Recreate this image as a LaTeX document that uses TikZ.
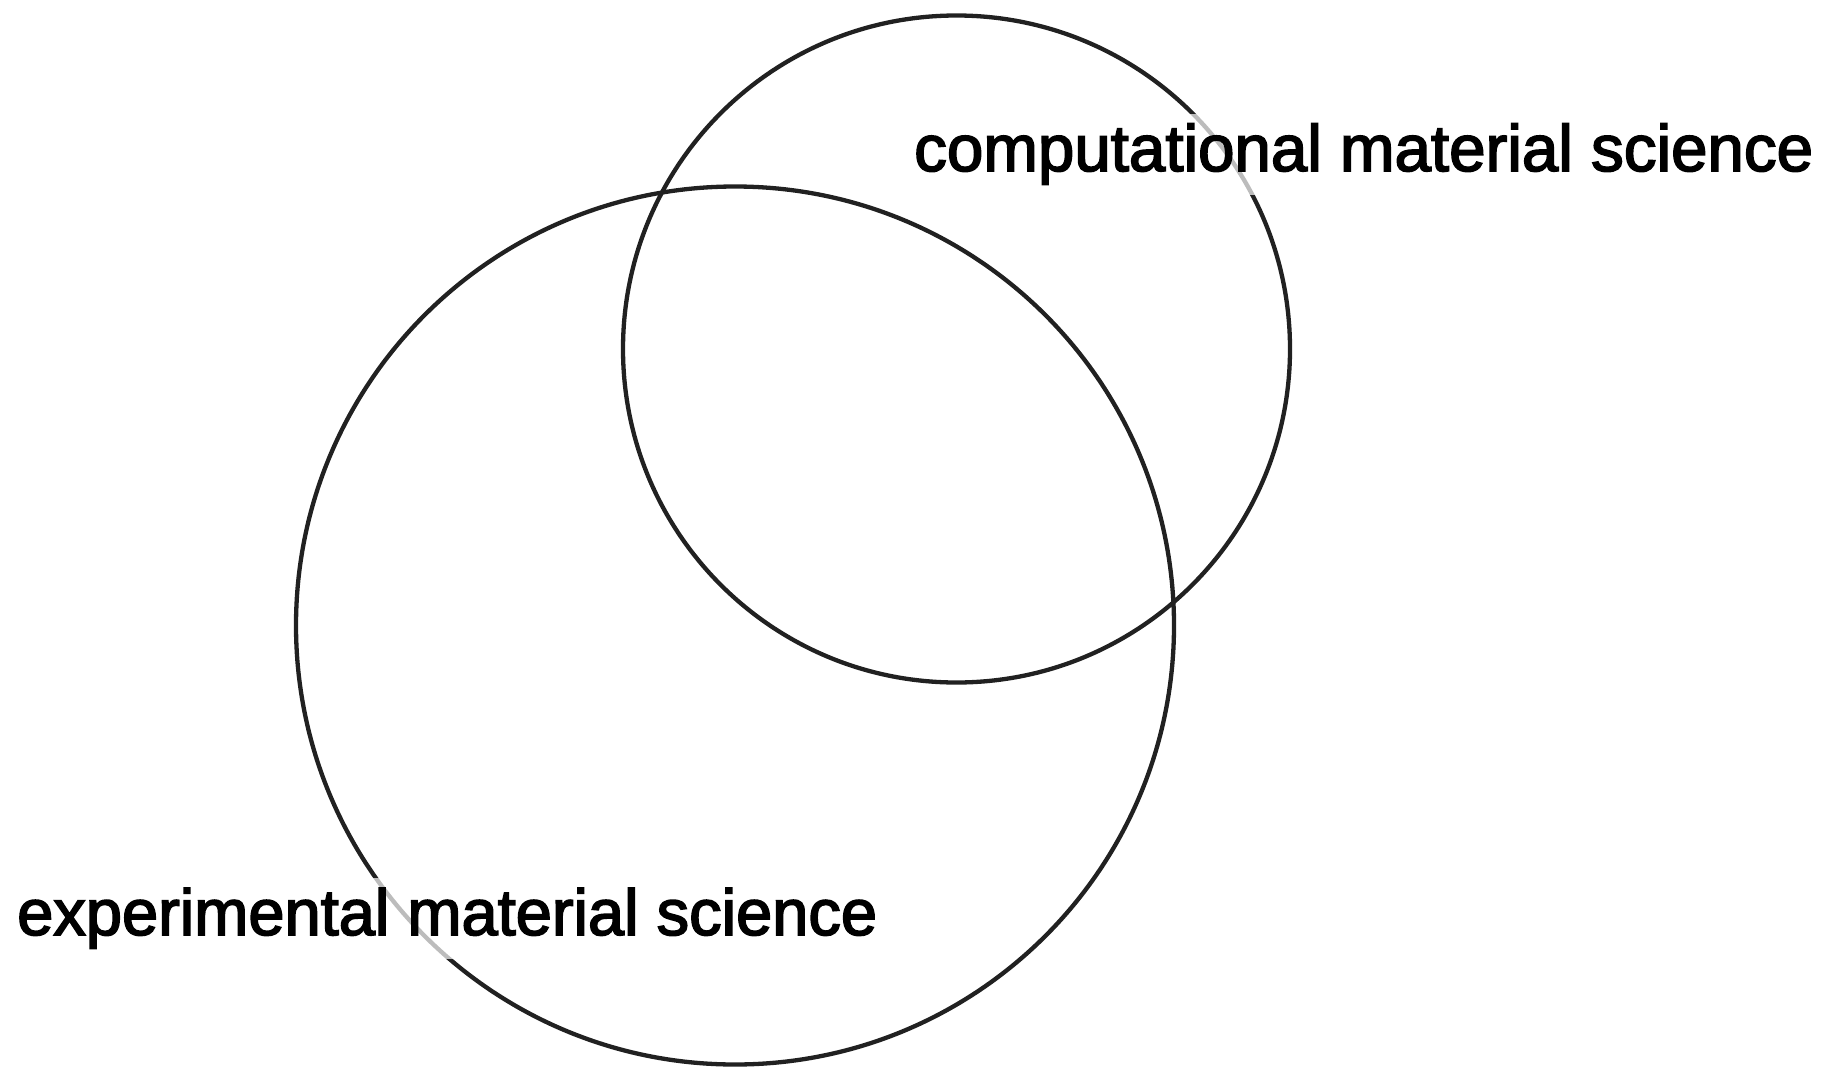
\documentclass[tikz,border=0pt]{standalone}
\usepackage{fontspec}
\setmainfont{Liberation Sans}
\newfontfamily\lblfont[FakeBold=2.5]{Liberation Sans}
\begin{document}
\begin{tikzpicture}[x=1pt,y=-1pt,
  ring/.style={circle,draw=black!87,line width=4.3pt,inner sep=0pt},
  lbl/.style={fill=white,fill opacity=0.7,text opacity=1,inner sep=10pt,anchor=base west,
    font=\lblfont\fontsize{65.5}{78}\selectfont}]
\useasboundingbox (0,0) rectangle (1826,1068);
\node[ring,minimum size=878pt] (exp) at (735,625.5) {};
\node[ring,minimum size=667pt] (comp) at (956.5,349) {};
\node[lbl] (complbl) at (904,171) {\resizebox{899pt}{!}{computational material science}};
\node[lbl] (explbl) at (7,935) {\resizebox{860pt}{!}{experimental material science}};
\end{tikzpicture}
\end{document}
